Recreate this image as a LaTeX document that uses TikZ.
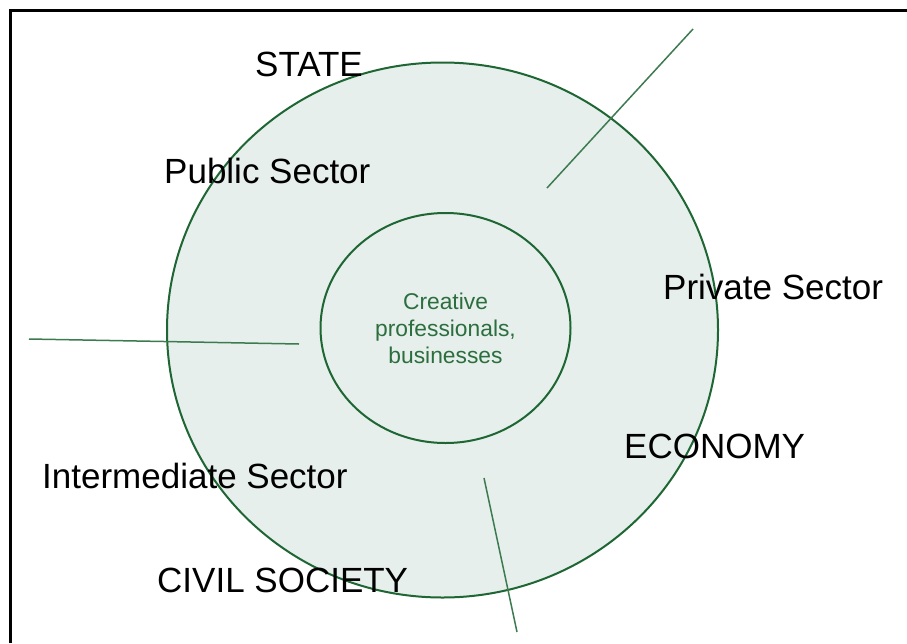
\documentclass[tikz,border=0pt]{standalone}
\usepackage{fontspec}
\setmainfont{Liberation Sans}
\usepackage{xcolor}
\usetikzlibrary{positioning,shapes.geometric}
\definecolor{ringgreen}{HTML}{1E6633}
\definecolor{ringfill}{HTML}{E6EFEC}
\definecolor{spokegreen}{HTML}{3C7A50}
\definecolor{textgreen}{HTML}{2C6E3E}

\begin{document}
\begin{tikzpicture}[x=1pt,y=-1pt,
                ring node/.style={ellipse,draw=ringgreen,line width=2pt,fill=ringfill,inner sep=0pt},
                sector label/.style={anchor=base west,inner sep=0pt,font=\fontsize{35}{40}\selectfont},
                spoke/.style={draw=spokegreen,line width=1.5pt}]
\useasboundingbox (0,0) rectangle (907,643);
%Frame
    \draw[line width=2.4pt] (10.5,643) -- (10.5,10.5) -- (907,10.5);
%Nodes
    \node[ring node,minimum width=551pt,minimum height=535pt] (outer) at (442.5,330) {};
    \node[ring node,minimum width=250pt,minimum height=230pt,align=center,text=textgreen,
          font=\fontsize{22.8}{27}\selectfont] (inner) at (445.5,328) {Creative\\professionals,\\businesses};
%Labels
    \node[sector label] (state) at (255,76) {STATE};
    \node[sector label] (public) at (164,183) {Public Sector};
    \node[sector label] (private) at (663,299) {Private Sector};
    \node[sector label] (economy) at (624,458) {ECONOMY};
    \node[sector label] (intermediate) at (42,488) {Intermediate Sector};
    \node[sector label] (civil) at (157,592) {CIVIL SOCIETY};
%Lines
    \coordinate (ne in) at (547,188);
    \coordinate (ne out) at (693,29);
    \coordinate (w in) at (299,344);
    \coordinate (w out) at (29,339);
    \coordinate (s in) at (484,478);
    \coordinate (s out) at (517,632);
    \draw[spoke] (ne in) -- (ne out);
    \draw[spoke] (w in) -- (w out);
    \draw[spoke] (s in) -- (s out);
\end{tikzpicture}
\end{document}
